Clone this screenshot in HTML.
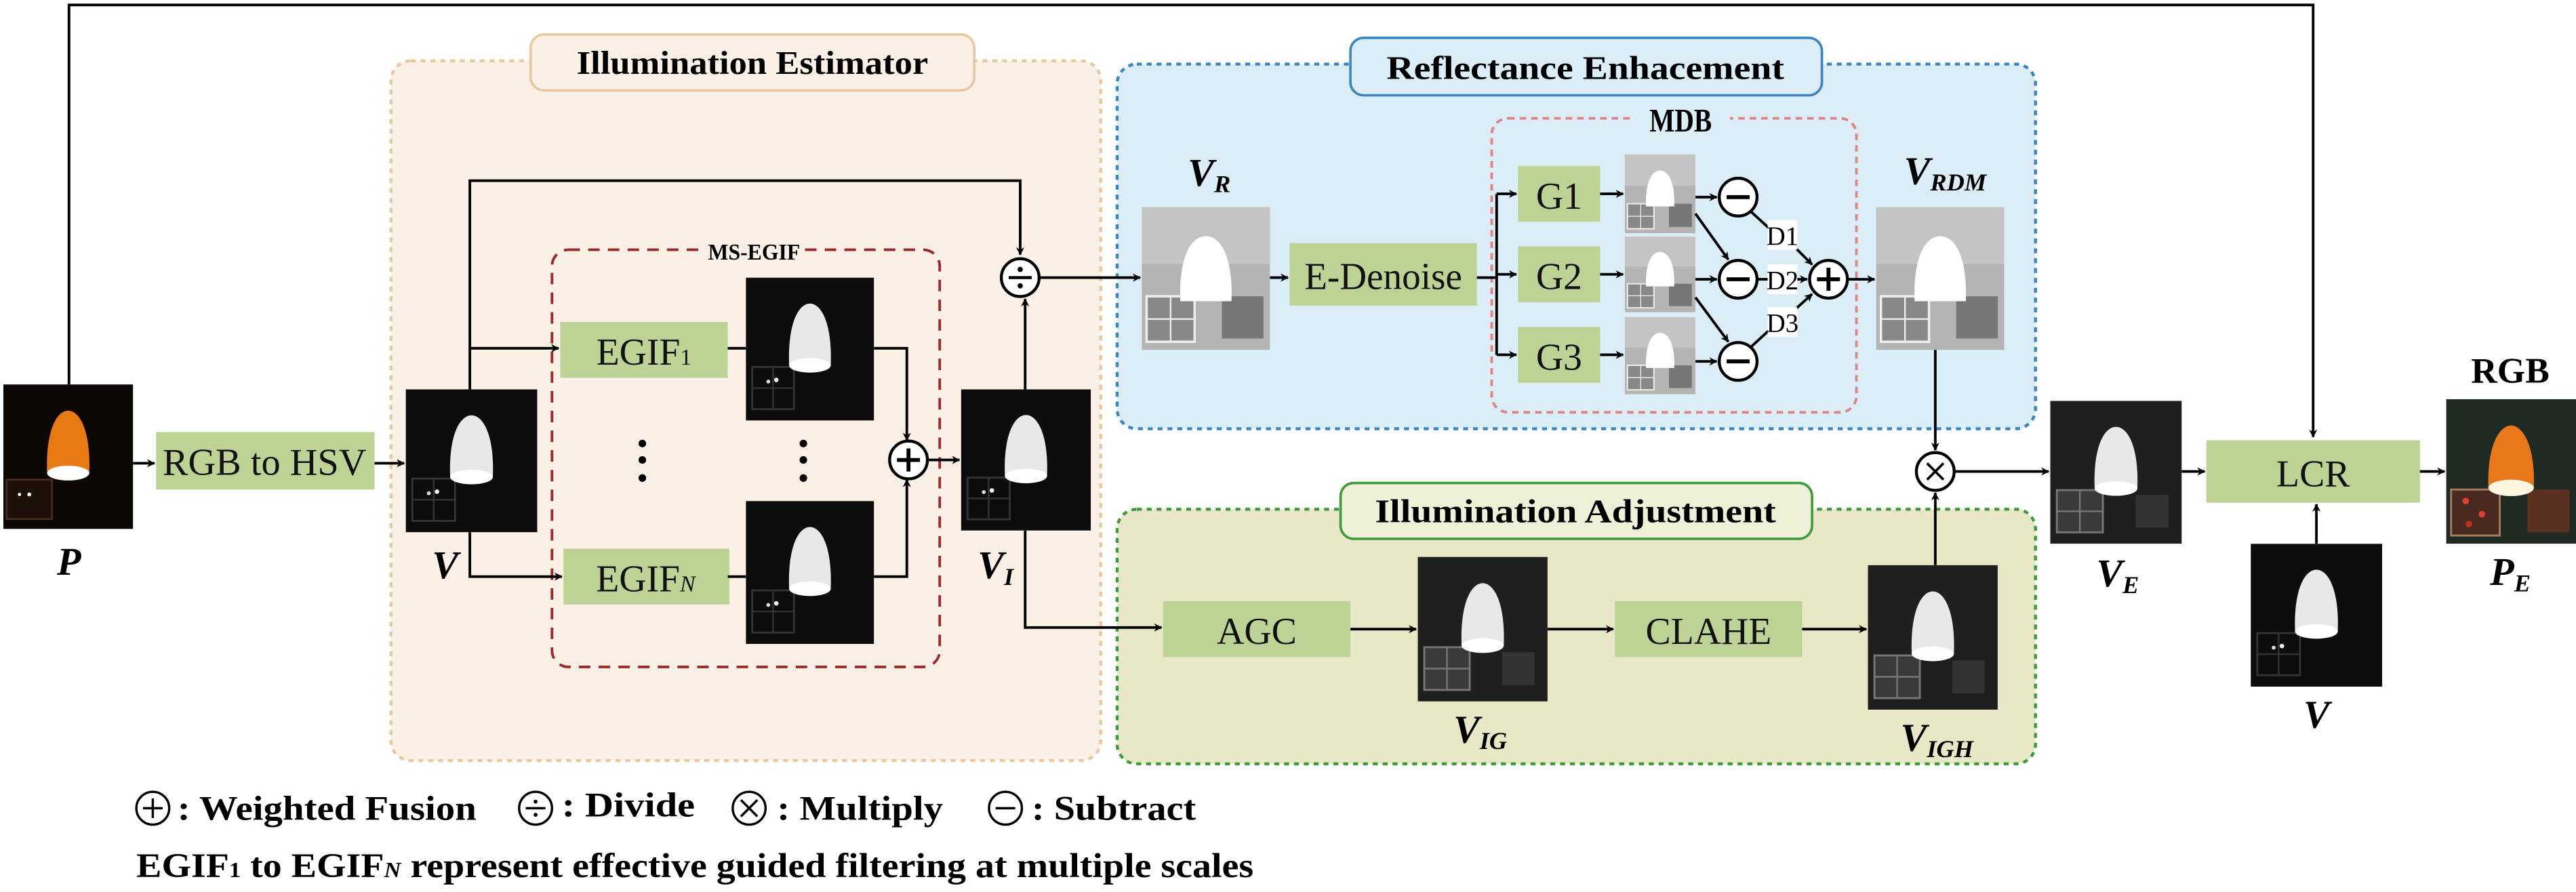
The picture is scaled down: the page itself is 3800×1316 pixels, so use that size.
<!DOCTYPE html>
<html><head><meta charset="utf-8">
<style>
html,body{margin:0;padding:0;background:#fff;}
svg{display:block;font-family:"Liberation Serif","Times New Roman",Times,serif;}
svg text{font-family:"Liberation Serif","Times New Roman",Times,serif;}
</style></head>
<body>
<svg width="3800" height="1316" viewBox="0 0 1568 543" xmlns="http://www.w3.org/2000/svg" font-family="Liberation Serif, Times New Roman, Times, serif">
<defs>
<marker id="ah" viewBox="0 0 10 10" refX="9" refY="5" markerWidth="5" markerHeight="5" orient="auto" markerUnits="userSpaceOnUse"><path d="M0,0 L10,5 L0,10 L3,5 Z" fill="#000"/></marker>
<symbol id="dark" viewBox="0 0 80 88" preserveAspectRatio="none">
<rect width="80" height="88" fill="#0c0c0c"/>
<rect x="4" y="55" width="26" height="26" fill="none" stroke="#333" stroke-width="1.2"/>
<line x1="17" y1="55" x2="17" y2="81" stroke="#333"/><line x1="4" y1="68" x2="30" y2="68" stroke="#333"/>
<circle cx="14" cy="64" r="1.2" fill="#ddd"/><circle cx="19" cy="63" r="1.4" fill="#eee"/>
<path d="M27,54 C26,28 33,16 40,16 C47,16 54,28 53,54 Z" fill="#e8e8e8"/>
<ellipse cx="40" cy="54" rx="13" ry="4.5" fill="#fff"/>
</symbol>
<symbol id="dark2" viewBox="0 0 80 88" preserveAspectRatio="none">
<rect width="80" height="88" fill="#1f1f1f"/>
<rect x="4" y="55" width="28" height="26" fill="#3a3a3a" stroke="#777" stroke-width="1.2"/>
<line x1="18" y1="55" x2="18" y2="81" stroke="#777"/><line x1="4" y1="68" x2="32" y2="68" stroke="#777"/>
<rect x="52" y="58" width="20" height="20" fill="#333"/>
<path d="M27,54 C26,28 33,16 40,16 C47,16 54,28 53,54 Z" fill="#e8e8e8"/>
<ellipse cx="40" cy="54" rx="13" ry="4.5" fill="#fff"/>
</symbol>
<symbol id="gray" viewBox="0 0 80 88" preserveAspectRatio="none">
<rect width="80" height="88" fill="#b4b4b4"/>
<rect x="0" y="0" width="80" height="35" fill="#c4c4c4"/>
<rect x="3" y="55" width="30" height="28" fill="#888" stroke="#eee" stroke-width="1.5"/>
<line x1="18" y1="55" x2="18" y2="83" stroke="#eee"/><line x1="3" y1="69" x2="33" y2="69" stroke="#eee"/>
<rect x="50" y="55" width="26" height="26" fill="#777"/>
<path d="M24,58 C23,30 31,18 40,18 C49,18 57,30 56,58 Z" fill="#fff"/>
</symbol>
<symbol id="color" viewBox="0 0 80 88" preserveAspectRatio="none">
<rect width="80" height="88" fill="#1f2a22"/>
<rect x="3" y="55" width="30" height="28" fill="#4a2a20" stroke="#a08060" stroke-width="1.2"/>
<circle cx="12" cy="62" r="2" fill="#e04030"/><circle cx="22" cy="70" r="2" fill="#e04030"/><circle cx="14" cy="76" r="2" fill="#c03020"/>
<rect x="50" y="55" width="26" height="26" fill="#5a3020"/>
<path d="M26,54 C25,28 33,16 40,16 C47,16 55,28 54,54 Z" fill="#e8781a"/>
<ellipse cx="40" cy="54" rx="14" ry="5" fill="#fff6e0"/>
</symbol>
<symbol id="orig" viewBox="0 0 80 88" preserveAspectRatio="none">
<rect width="80" height="88" fill="#0d0806"/>
<rect x="2" y="58" width="28" height="24" fill="#1d1008" stroke="#4a3020" stroke-width="1"/>
<circle cx="10" cy="67" r="1" fill="#fff"/><circle cx="16" cy="67" r="1.2" fill="#fff"/>
<path d="M27,54 C26,28 33,16 40,16 C47,16 54,28 53,54 Z" fill="#e87a14"/>
<ellipse cx="40" cy="54" rx="13" ry="4.5" fill="#fff"/>
</symbol>
</defs>

<rect x="238" y="37" width="432" height="426" rx="12" fill="#faf0e6" stroke="#e8c7a3" stroke-width="1.8" stroke-dasharray="3,3"/>
<rect x="680" y="39" width="559" height="222" rx="12" fill="#dbedf6" stroke="#3b86c1" stroke-width="1.8" stroke-dasharray="3,3"/>
<rect x="680" y="310" width="559" height="155" rx="12" fill="#e8e8c6" stroke="#3f9a3c" stroke-width="1.8" stroke-dasharray="3,3"/>
<rect x="336" y="152" width="236" height="254" rx="10" fill="none" stroke="#9b2a2a" stroke-width="1.6" stroke-dasharray="7,5"/>
<rect x="908" y="72" width="222" height="179" rx="10" fill="none" stroke="#e08585" stroke-width="1.6" stroke-dasharray="4,3"/>
<rect x="430" y="142" width="58" height="18" fill="#faf0e6"/>
<rect x="995" y="60" width="58" height="22" fill="#dbedf6"/>

<rect x="323" y="21" width="270" height="34" rx="8" fill="#faf0e6" stroke="#e8c7a3" stroke-width="1.5"/>
<text x="458" y="45" font-size="20" font-weight="bold" text-anchor="middle" textLength="214" lengthAdjust="spacingAndGlyphs">Illumination Estimator</text>
<rect x="822" y="23" width="287" height="35" rx="8" fill="#dbedf6" stroke="#3b86c1" stroke-width="1.5"/>
<text x="965" y="48" font-size="20" font-weight="bold" text-anchor="middle" textLength="242" lengthAdjust="spacingAndGlyphs">Reflectance Enhacement</text>
<rect x="816" y="294" width="287" height="34" rx="8" fill="#eef0d8" stroke="#3f9a3c" stroke-width="1.5"/>
<text x="959" y="318" font-size="20" font-weight="bold" text-anchor="middle" textLength="244" lengthAdjust="spacingAndGlyphs">Illumination Adjustment</text>
<text x="459" y="158" font-size="14" font-weight="bold" text-anchor="middle" textLength="56" lengthAdjust="spacingAndGlyphs">MS-EGIF</text>
<text x="1023" y="80" font-size="20" font-weight="bold" text-anchor="middle" textLength="38" lengthAdjust="spacingAndGlyphs">MDB</text>

<g fill="#bdd396">
<rect x="95" y="263" width="133" height="35"/>
<rect x="341" y="196" width="102" height="34"/>
<rect x="343" y="334" width="101" height="34"/>
<rect x="785" y="148" width="114" height="38"/>
<rect x="924" y="101" width="50" height="34"/>
<rect x="924" y="150" width="50" height="34"/>
<rect x="924" y="199" width="50" height="34"/>
<rect x="708" y="366" width="114" height="34"/>
<rect x="983" y="366" width="114" height="34"/>
<rect x="1343" y="268" width="130" height="38"/>
</g>
<g font-size="23" text-anchor="middle" fill="#111">
<text x="161" y="289" textLength="124" lengthAdjust="spacingAndGlyphs">RGB to HSV</text>
<text x="392" y="222">EGIF<tspan font-size="14">1</tspan></text>
<text x="393" y="360">EGIF<tspan font-size="14" font-style="italic">N</tspan></text>
<text x="842" y="176" textLength="96" lengthAdjust="spacingAndGlyphs">E-Denoise</text>
<text x="949" y="127">G1</text>
<text x="949" y="176">G2</text>
<text x="949" y="225">G3</text>
<text x="765" y="392">AGC</text>
<text x="1040" y="392">CLAHE</text>
<text x="1408" y="296">LCR</text>
</g>

<use href="#orig" x="2" y="234" width="79" height="88"/>
<use href="#dark" x="247" y="237" width="80" height="87"/>
<use href="#dark" x="454" y="169" width="78" height="87"/>
<use href="#dark" x="454" y="305" width="78" height="87"/>
<use href="#dark" x="585" y="237" width="79" height="86"/>
<use href="#gray" x="695" y="126" width="78" height="87"/>
<use href="#gray" x="989" y="94" width="43" height="48"/>
<use href="#gray" x="989" y="144" width="43" height="46"/>
<use href="#gray" x="989" y="193" width="43" height="47"/>
<use href="#gray" x="1142" y="126" width="78" height="87"/>
<use href="#dark2" x="863" y="339" width="79" height="88"/>
<use href="#dark2" x="1137" y="344" width="79" height="88"/>
<use href="#dark2" x="1248" y="244" width="80" height="87"/>
<use href="#dark" x="1370" y="331" width="80" height="87"/>
<use href="#color" x="1489" y="243" width="79" height="88"/>

<g fill="none" stroke="#000" stroke-width="1.6">
<path d="M42,234 V3 H1408 V266" marker-end="url(#ah)"/>
<path d="M81,282 H94" marker-end="url(#ah)"/>
<path d="M228,282 H246" marker-end="url(#ah)"/>
<path d="M286,237 V110 H621 V155" marker-end="url(#ah)"/>
<path d="M286,212 H340" marker-end="url(#ah)"/>
<path d="M286,324 V351 H342" marker-end="url(#ah)"/>
<path d="M443,212 H454"/><path d="M443,351 H454"/>
<path d="M532,212 H552 V268" marker-end="url(#ah)"/>
<path d="M532,351 H552 V292" marker-end="url(#ah)"/>
<path d="M565,280 H584" marker-end="url(#ah)"/>
<path d="M624,237 V182" marker-end="url(#ah)"/>
<path d="M633,169 H694" marker-end="url(#ah)"/>
<path d="M624,323 V382 H707" marker-end="url(#ah)"/>
<path d="M773,169 H784" marker-end="url(#ah)"/>
<path d="M899,169 H911"/>
<path d="M911,118 V216"/>
<path d="M911,118 H923" marker-end="url(#ah)"/>
<path d="M911,167 H923" marker-end="url(#ah)"/>
<path d="M911,216 H923" marker-end="url(#ah)"/>
<path d="M974,118 H988" marker-end="url(#ah)"/>
<path d="M974,167 H988" marker-end="url(#ah)"/>
<path d="M974,216 H988" marker-end="url(#ah)"/>
<path d="M1032,120 H1045" marker-end="url(#ah)"/>
<path d="M1032,170 H1045" marker-end="url(#ah)"/>
<path d="M1032,220 H1045" marker-end="url(#ah)"/>
<path d="M1032,130 L1052,158" marker-end="url(#ah)"/>
<path d="M1032,181 L1052,208" marker-end="url(#ah)"/>
<path d="M1066,129 L1078,140"/><path d="M1092,150 L1103,161" marker-end="url(#ah)"/>
<path d="M1070,170 H1076"/><path d="M1092,170 H1100" marker-end="url(#ah)"/>
<path d="M1066,211 L1078,200"/><path d="M1092,189 L1103,179" marker-end="url(#ah)"/>
<path d="M1125,170 H1141" marker-end="url(#ah)"/>
<path d="M1178,213 V274" marker-end="url(#ah)"/>
<path d="M1178,344 V300" marker-end="url(#ah)"/>
<path d="M1190,287 H1247" marker-end="url(#ah)"/>
<path d="M1328,287 H1342" marker-end="url(#ah)"/>
<path d="M1473,287 H1488" marker-end="url(#ah)"/>
<path d="M1410,331 V307" marker-end="url(#ah)"/>
<path d="M822,383 H862" marker-end="url(#ah)"/>
<path d="M942,383 H982" marker-end="url(#ah)"/>
<path d="M1097,383 H1136" marker-end="url(#ah)"/>
</g>
<g font-size="16" text-anchor="middle">
<rect x="1076" y="134" width="18" height="18" fill="#fff"/><text x="1085" y="149">D1</text>
<rect x="1076" y="161" width="18" height="18" fill="#fff"/><text x="1085" y="176">D2</text>
<rect x="1076" y="187" width="18" height="18" fill="#fff"/><text x="1085" y="202">D3</text>
</g>
<g fill="#000"><circle cx="391" cy="270" r="2.3"/><circle cx="391" cy="280" r="2.3"/><circle cx="391" cy="291" r="2.3"/>
<circle cx="489" cy="270" r="2.3"/><circle cx="489" cy="280" r="2.3"/><circle cx="489" cy="291" r="2.3"/></g>
<g fill="#fff" stroke="#000" stroke-width="1.8">
<circle cx="553" cy="280" r="11.5"/><circle cx="621" cy="169" r="11.5"/>
<circle cx="1058" cy="120" r="11.5"/><circle cx="1058" cy="170" r="11.5"/><circle cx="1058" cy="220" r="11.5"/>
<circle cx="1113" cy="170" r="11.5"/><circle cx="1178" cy="287" r="11.5"/>
</g>
<g stroke="#000" stroke-width="2.4">
<path d="M546,280 H560 M553,273 V287"/>
<path d="M1106,170 H1120 M1113,163 V177"/>
<path d="M1051,120 H1065 M1051,170 H1065 M1051,220 H1065"/>
<path d="M614,169 H628" stroke-width="1.8"/>
<path d="M1173,282 L1183,292 M1183,282 L1173,292" stroke-width="1.5"/>
</g>
<circle cx="621" cy="164" r="1.6"/><circle cx="621" cy="174" r="1.6"/>

<g font-size="24" font-weight="bold" font-style="italic" text-anchor="middle">
<text x="42" y="350">P</text>
<text x="271" y="352">V</text>
<text x="606" y="352">V<tspan font-size="15" dy="4">I</tspan></text>
<text x="736" y="113">V<tspan font-size="15" dy="4">R</tspan></text>
<text x="1184" y="112">V<tspan font-size="15" dy="4">RDM</tspan></text>
<text x="901" y="452">V<tspan font-size="15" dy="4">IG</tspan></text>
<text x="1179" y="457">V<tspan font-size="15" dy="4">IGH</tspan></text>
<text x="1289" y="357">V<tspan font-size="15" dy="4">E</tspan></text>
<text x="1410" y="443">V</text>
<text x="1528" y="356">P<tspan font-size="15" dy="4">E</tspan></text>
</g>
<text x="1528" y="233" font-size="22" font-weight="bold" text-anchor="middle">RGB</text>

<g fill="none" stroke="#000" stroke-width="1.4">
<circle cx="93" cy="492" r="10"/><circle cx="326" cy="492" r="10"/><circle cx="456" cy="492" r="10"/><circle cx="612" cy="492" r="10"/>
<path d="M87,492 H99 M93,486 V498 M320,492 H332 M451,487 L461,497 M461,487 L451,497 M606,492 H618"/>
</g>
<circle cx="326" cy="488" r="1.2"/><circle cx="326" cy="496" r="1.2"/>
<g font-size="21" font-weight="bold">
<text x="108" y="499" textLength="182" lengthAdjust="spacingAndGlyphs">: Weighted Fusion</text>
<text x="342" y="497" textLength="81" lengthAdjust="spacingAndGlyphs">: Divide</text>
<text x="473" y="499" textLength="101" lengthAdjust="spacingAndGlyphs">: Multiply</text>
<text x="628" y="499" textLength="100" lengthAdjust="spacingAndGlyphs">: Subtract</text>
<text x="83" y="534" textLength="680" lengthAdjust="spacingAndGlyphs">EGIF<tspan font-size="13">1</tspan> to EGIF<tspan font-size="13" font-style="italic">N</tspan> represent effective guided filtering at multiple scales</text>
</g>
</svg>
</body></html>
